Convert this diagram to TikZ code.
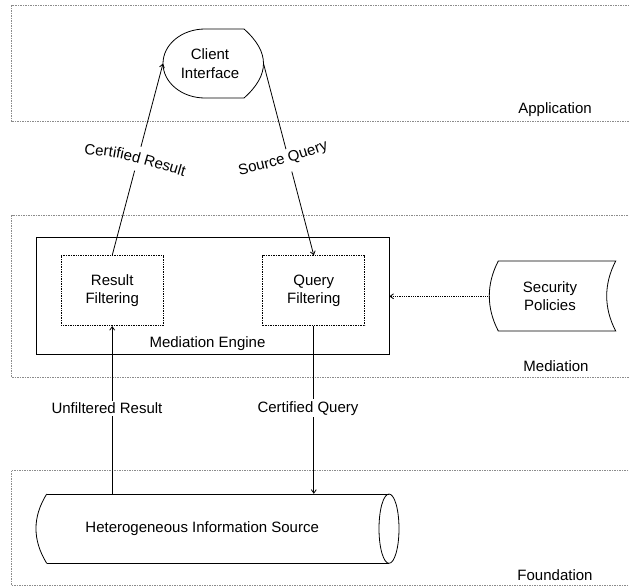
\documentclass[tikz,border=0pt]{standalone}
\usepackage{fontspec}
\setmainfont{Liberation Sans}
\usetikzlibrary{arrows.meta,decorations.text}
\begin{document}
\begin{tikzpicture}[x=1pt,y=-1pt,
  every node/.style={font=\fontsize{15}{18.5}\selectfont, inner sep=0pt},
  layer/.style={draw=black!45, line width=0.6pt, dash pattern=on 1.5pt off 1pt},
  shapeline/.style={draw=black, line width=0.8pt},
  filterbox/.style={draw, densely dotted, line width=0.7pt, minimum width=102pt, minimum height=70pt, align=center},
  arr/.style={line width=0.8pt, -{Straight Barb[length=3.5pt,width=5pt]}},
  lbl/.style={fill=white, inner sep=2pt},
  gap/.style={draw=white, line width=5pt},
  curvedlbl/.style={decorate, decoration={text along path, text align=center, text={|\fontsize{15}{18}\selectfont|#1}}}
]
\useasboundingbox (0,0) rectangle (629,587);
\fill[white] (0,0) rectangle (629,587);
\clip (0,0) rectangle (629,587);

% layers
\draw[layer] (11.5,5) rectangle (640,121.7);
\draw[layer] (11.5,215) rectangle (640,377);
\draw[layer] (11.5,470.7) rectangle (640,585.5);
\node (lapp) at (555,110) {Application};
\node (lmed) at (556,366) {Mediation};
\node (lfou) at (555,575) {Foundation};

% Client Interface (display shape)
\draw[shapeline, fill=white] (205,29) -- (244,29) .. controls (270,52) and (270,75) .. (244,98)
  -- (205,98) .. controls (181.8,98) and (163,82.55) .. (163,63.5)
  .. controls (163,44.45) and (181.8,29) .. (205,29) -- cycle;
\node[align=center, minimum height=69pt] (ci) at (210,63.5) {Client\\Interface};
\coordinate (ciw) at (163,63.5);
\coordinate (cie) at (263.5,63.5);

% Mediation engine
\node[draw, line width=0.8pt, minimum width=353pt, minimum height=116.6pt] (me) at (212.5,296) {};
\node (melbl) at (207.5,343.3) {Mediation Engine};
\node[filterbox] (rf) at (112.2,290.7) {Result\\Filtering};
\node[filterbox] (qf) at (313.8,290.7) {Query\\Filtering};

% Security Policies (stored data shape)
\draw[shapeline] (498.3,261) -- (615.7,261) .. controls (603.7,284) and (603.7,308) .. (615.7,331)
  -- (498.3,331) .. controls (486.3,308) and (486.3,284) .. (498.3,261) -- cycle;
\node[align=center, minimum height=70pt] (sp) at (550,296.3) {Security\\Policies};
\coordinate (spw) at (489.3,296.3);

% Heterogeneous Information Source (cylinder)
\draw[shapeline] (46.7,494) -- (389,494);
\draw[shapeline] (46.7,563.3) -- (389,563.3);
\draw[shapeline] (389,528.65) ellipse [x radius=10, y radius=34.65];
\draw[shapeline] (46.7,563.3) .. controls (32.4,540) and (32.4,517) .. (46.7,494);
\node[minimum height=69.3pt] (his) at (202.2,528.65) {Heterogeneous Information Source};

% connectors
\draw[arr] (rf.north) -- (ciw);
\draw[arr] (cie) -- (qf.north);
\draw[arr, densely dotted] (spw) -- (spw -| me.east);
\draw[arr] (rf.south |- his.north) -- (rf.south);
\draw[arr] (qf.south) -- (qf.south |- his.north);

% gaps behind curved labels
\path (rf.north) -- (ciw) coordinate[pos=0.442] (g1a) coordinate[pos=0.566] (g1b);
\path (cie) -- (qf.north) coordinate[pos=0.447] (g2a) coordinate[pos=0.563] (g2b);
\draw[gap] (g1a) -- (g1b);
\draw[gap] (g2a) -- (g2b);

% labels
\node[lbl] (ufl) at (107,408.3) {Unfiltered Result};
\node[lbl] (cql) at (308,408.3) {Certified Query};
\path[curvedlbl={Certified Result}] (82,154) .. controls (119,157) .. (186,177);
\path[curvedlbl={Source Query}] (238,175.5) .. controls (276.6,166.6) .. (330,149);
\end{tikzpicture}
\end{document}
